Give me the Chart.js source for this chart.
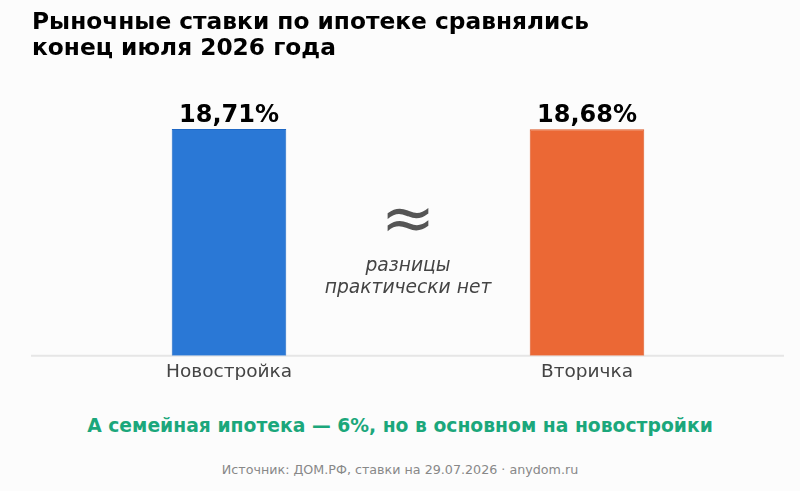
<!DOCTYPE html>
<html lang="ru">
<head>
<meta charset="utf-8">
<script src="https://cdn.jsdelivr.net/npm/chart.js@4"></script>
<style>
  html, body { margin: 0; padding: 0; background: #fcfcfc; }
  body { width: 800px; height: 491px; position: relative; overflow: hidden; font-family: "DejaVu Sans", sans-serif; }
  #wrap { position: absolute; left: 0; top: 0; width: 800px; height: 380px; }
  h1 { position: absolute; left: 32px; top: 8px; margin: 0; font-size: 23.3px; line-height: 26px; font-weight: bold; color: #000; }
  .approx { position: absolute; left: 258px; width: 300px; text-align: center; color: #555; }
  #sym { top: 180px; font-size: 65px; line-height: 76px; }
  #note { top: 254px; font-size: 18.7px; line-height: 22px; font-style: italic; color: #444; }
  #family { position: absolute; left: 0; width: 800px; top: 415px; text-align: center; font-size: 18.75px; font-weight: bold; color: #1ba77b; }
  #src { position: absolute; left: 0; width: 800px; top: 462px; text-align: center; font-size: 12.7px; color: #888; }
</style>
</head>
<body>
<div id="wrap"><canvas id="c"></canvas></div>
<h1>Рыночные ставки по ипотеке сравнялись<br>конец июля 2026 года</h1>
<div class="approx" id="sym">≈</div>
<div class="approx" id="note">разницы<br>практически нет</div>
<div id="family">А семейная ипотека — 6%, но в основном на новостройки</div>
<div id="src">Источник: ДОМ.РФ, ставки на 29.07.2026 · anydom.ru</div>
<script>
const categories = ['Новостройка', 'Вторичка'];
const rates = [18.71, 18.68];
const barColors = ['#2a78d6', '#eb6835'];
const barBorders = ['#1f68c4', '#dc5a28'];

// baseline across the full width + value labels above bars
const extras = {
  id: 'extras',
  beforeDatasetsDraw(chart) {
    const ctx = chart.ctx;
    const y = chart.scales.y.getPixelForValue(0);
    ctx.save();
    ctx.strokeStyle = '#e6e6e6';
    ctx.lineWidth = 2;
    ctx.beginPath();
    ctx.moveTo(31, y);
    ctx.lineTo(784, y);
    ctx.stroke();
    ctx.restore();
  },
  afterDatasetsDraw(chart) {
    const ctx = chart.ctx;
    const meta = chart.getDatasetMeta(0);
    ctx.save();
    ctx.font = 'bold 24px "DejaVu Sans"';
    ctx.fillStyle = '#000';
    ctx.textAlign = 'center';
    ctx.textBaseline = 'alphabetic';
    meta.data.forEach((bar, i) => {
      ctx.fillText(rates[i].toFixed(2).replace('.', ',') + '%', bar.x, bar.y - 7);
    });
    ctx.restore();
  }
};

new Chart(document.getElementById('c'), {
  type: 'bar',
  data: {
    labels: categories,
    datasets: [{
      data: rates,
      backgroundColor: barColors,
      borderColor: barBorders,
      borderWidth: 1,
      barPercentage: 0.32,
      categoryPercentage: 1
    }]
  },
  options: {
    responsive: true,
    maintainAspectRatio: false,
    animation: false,
    layout: { padding: { top: 89, left: 50, right: 34, bottom: 0 } },
    plugins: { legend: { display: false }, tooltip: { enabled: false } },
    scales: {
      y: { display: false, min: 0, max: 22 },
      x: {
        grid: { display: false },
        border: { display: false },
        ticks: { color: '#444', font: { family: 'DejaVu Sans', size: 18.5 }, padding: -3 }
      }
    }
  },
  plugins: [extras]
});
</script>
</body>
</html>
